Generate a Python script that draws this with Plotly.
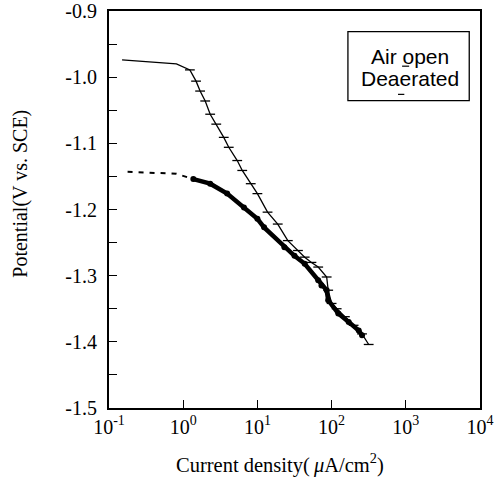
import plotly.graph_objects as go

# Air open (upper curve)
air_x = [0.15, 0.35, 0.81, 1.23, 1.49, 1.69, 1.98, 2.31, 2.79, 3.52, 4.11, 5.35, 6.25, 8.13, 10.0, 13.7,
         18.8, 25.7, 35.2, 43.4, 53.5, 66, 85.8, 90, 100, 117, 151, 198, 257, 316]
air_v = [-0.974, -0.977, -0.980, -0.989, -1.006, -1.021, -1.036, -1.056, -1.071, -1.091, -1.106, -1.126,
         -1.141, -1.161, -1.176, -1.204, -1.222, -1.247, -1.262, -1.272, -1.280, -1.287, -1.302, -1.322,
         -1.342, -1.350, -1.362, -1.375, -1.388, -1.404]

# Deaerated (lower curve)
dea_x = [0.178, 0.30, 0.48, 0.81, 1.37, 2.31, 3.91, 6.59, 10, 12.3, 23.1, 31.6, 43.4, 66, 73, 85.8, 90,
         123, 170, 232, 257]
dea_v = [-1.143, -1.144, -1.144, -1.146, -1.154, -1.161, -1.176, -1.197, -1.214, -1.227, -1.257, -1.270,
         -1.282, -1.307, -1.315, -1.322, -1.337, -1.357, -1.370, -1.383, -1.390]

x_tickvals = [0.1, 1, 10, 100, 1000, 10000]
x_ticktext = ["10<sup>-1</sup>", "10<sup>0</sup>", "10<sup>1</sup>", "10<sup>2</sup>", "10<sup>3</sup>", "10<sup>4</sup>"]
y_tickvals = [-1.5, -1.4, -1.3, -1.2, -1.1, -1.0, -0.9]
y_ticktext = ["-1.5", "-1.4", "-1.3", "-1.2", "-1.1", "-1.0", "-0.9"]

fig = go.Figure()
fig.add_trace(go.Scatter(x=air_x, y=air_v, mode="lines", line=dict(color="black", width=1.3), showlegend=False))
fig.add_trace(go.Scatter(x=air_x[3:], y=air_v[3:], mode="markers",
                         marker=dict(symbol="line-ew", size=7, line=dict(color="black", width=1.3)),
                         showlegend=False))
fig.add_trace(go.Scatter(x=dea_x[:5], y=dea_v[:5], mode="lines",
                         line=dict(color="black", width=2, dash="5px,6px"), showlegend=False))
fig.add_trace(go.Scatter(x=dea_x[4:], y=dea_v[4:], mode="lines+markers",
                         line=dict(color="black", width=4.5),
                         marker=dict(symbol="circle", size=6, color="black"),
                         showlegend=False))

serif = "Liberation Serif, Times New Roman, serif"
fig.update_layout(
    width=499, height=484,
    margin=dict(l=109, r=19, t=11, b=76, autoexpand=False),
    paper_bgcolor="white", plot_bgcolor="white",
    font=dict(family=serif, size=20, color="black"),
    xaxis=dict(type="log", range=[-1, 4], tickvals=x_tickvals, ticktext=x_ticktext,
               ticks="inside", ticklen=8, tickwidth=1.3, tickcolor="black",
               showline=True, linecolor="black", linewidth=1.6, mirror=True,
               showgrid=False, zeroline=False, automargin=False),
    yaxis=dict(range=[-1.5, -0.9], tickvals=y_tickvals, ticktext=y_ticktext,
               ticks="inside", ticklen=8, tickwidth=1.3, tickcolor="black",
               minor=dict(dtick=0.05, tick0=-1.5, ticks="inside", ticklen=8, tickwidth=1.3, tickcolor="black"),
               showline=True, linecolor="black", linewidth=2, mirror=True,
               showgrid=False, zeroline=False, ticklabelstandoff=6, automargin=False),
)

# axis titles
fig.add_annotation(xref="paper", yref="paper", x=0.462, y=-0.14, xanchor="center", yanchor="middle",
                   text="Current density(\u2009<i>μ</i>A/cm<sup>2</sup>)", showarrow=False,
                   font=dict(family=serif, size=20.5, color="black"))
fig.add_annotation(xref="paper", yref="paper", x=-0.237, y=0.54, xanchor="center", yanchor="middle",
                   text="Potential(V vs. SCE)", textangle=-90, showarrow=False,
                   font=dict(family=serif, size=20, color="black"))

# legend box
fig.add_shape(type="rect", xref="paper", yref="paper", x0=0.644, x1=0.971, y0=0.774, y1=0.948,
              line=dict(color="black", width=1.3), fillcolor="white", layer="above")
sans = "Liberation Sans, Arial, sans-serif"
fig.add_annotation(xref="paper", yref="paper", x=0.81, y=0.885, xanchor="center", yanchor="middle",
                   text="Air open", showarrow=False, font=dict(family=sans, size=21, color="black"))
fig.add_annotation(xref="paper", yref="paper", x=0.81, y=0.829, xanchor="center", yanchor="middle",
                   text="Deaerated", showarrow=False, font=dict(family=sans, size=21, color="black"))
fig.add_shape(type="line", xref="paper", yref="paper", x0=0.790, x1=0.809, y0=0.861, y1=0.861,
              line=dict(color="black", width=1.2))
fig.add_shape(type="line", xref="paper", yref="paper", x0=0.779, x1=0.796, y0=0.79, y1=0.79,
              line=dict(color="black", width=1.2))

fig.write_html("out.html")
